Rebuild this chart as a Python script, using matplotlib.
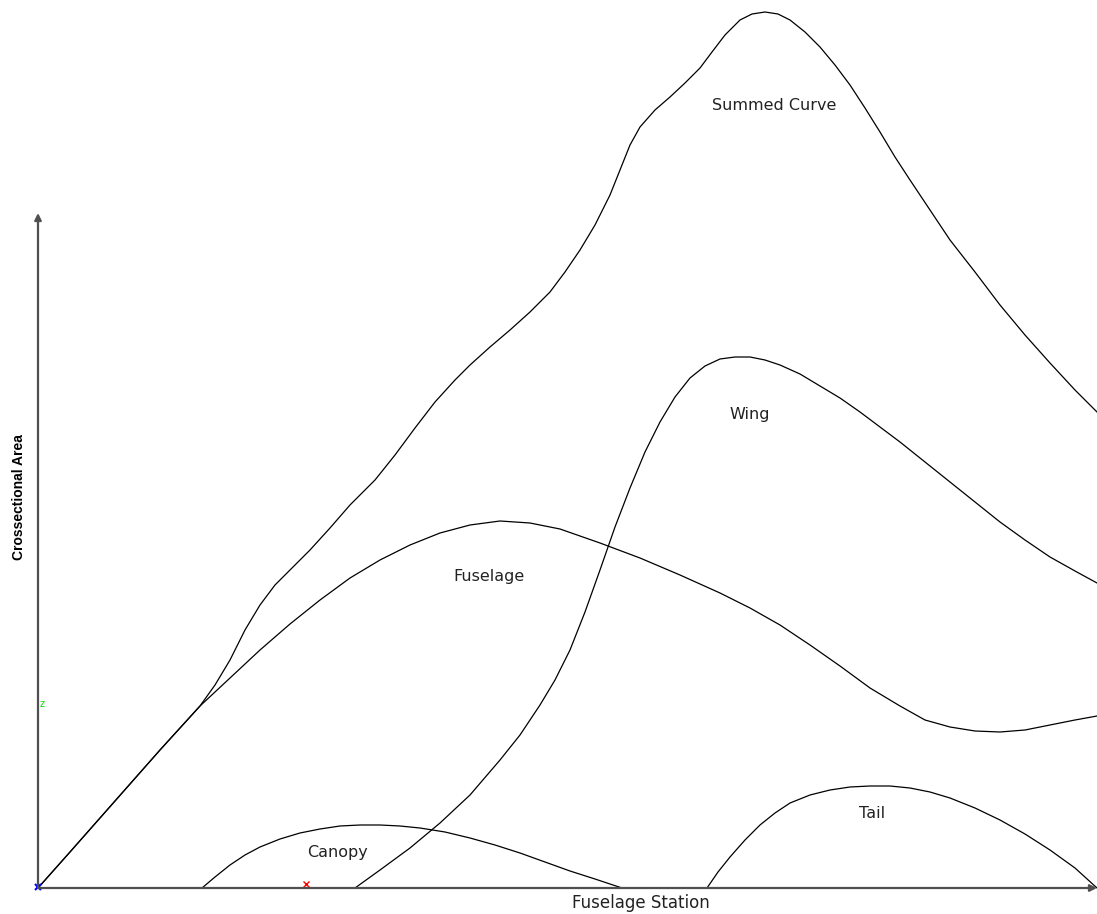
import matplotlib
matplotlib.use("Agg")
import matplotlib.pyplot as plt

# area-rule breakdown: station vs cross-sectional area (origin at 0,0)
fuselage_x = [0, 32, 62, 92, 122, 162, 192, 222, 252, 282, 312, 342, 372, 402, 432, 462, 492, 522,
              562, 602, 642, 682, 712, 742, 772, 802, 832, 862, 887, 912, 937, 962, 987, 1012, 1037, 1059]
fuselage_a = [0, 36, 70, 104, 138, 182, 210, 238, 264, 288, 310, 328, 343, 355, 363, 367, 365, 359,
              345, 330, 313, 295, 280, 263, 243, 222, 200, 182, 168, 161, 157, 156, 158, 163, 168, 172]

canopy_x = [164, 177, 192, 207, 222, 242, 262, 282, 302, 322, 342, 362, 382, 407, 432, 457, 482,
            507, 532, 557, 584]
canopy_a = [0, 11, 23, 33, 41, 49, 55, 59, 62, 63, 63, 62, 60, 56, 50, 43, 35, 26, 17, 9, 0]

wing_x = [317, 342, 372, 402, 432, 462, 482, 502, 517, 532, 547, 562, 577, 592, 607, 622, 637, 652,
          667, 682, 697, 712, 727, 742, 762, 782, 802, 822, 842, 862, 887, 912, 937, 962, 987, 1012,
          1037, 1059]
wing_a = [0, 18, 40, 65, 93, 128, 153, 183, 208, 238, 276, 318, 361, 400, 436, 466, 491, 510,
          522, 529, 531, 531, 528, 523, 514, 502, 490, 476, 461, 446, 426, 406, 386, 366, 348, 331,
          317, 305]

tail_x = [669, 680, 692, 707, 722, 737, 752, 772, 792, 812, 832, 852, 872, 892, 912, 937, 962, 987,
          1012, 1037, 1059]
tail_a = [0, 16, 31, 48, 63, 75, 85, 93, 98, 101, 102, 102, 100, 96, 90, 80, 68, 54, 38, 20, 0]

summed_x = [0, 32, 62, 92, 122, 162, 177, 192, 207, 222, 237, 252, 272, 292, 312, 337, 357, 377,
            397, 417, 432, 452, 472, 492, 512, 527, 542, 557, 572, 582, 592, 602, 617, 632, 647,
            662, 674, 687, 702, 714, 727, 740, 752, 767, 782, 797, 812, 827, 842, 857, 872, 892,
            912, 937, 962, 987, 1012, 1037, 1059]
summed_a = [0, 36, 70, 104, 138, 182, 203, 228, 258, 283, 303, 318, 338, 360, 383, 408, 433, 460,
            486, 508, 523, 541, 558, 576, 596, 616, 638, 663, 693, 718, 743, 761, 778, 791, 805,
            820, 836, 853, 868, 874, 876, 874, 868, 856, 841, 823, 803, 780, 756, 731, 708, 678,
            648, 616, 583, 553, 525, 498, 476]

labels = ["Summed Curve", "Wing", "Fuselage", "Canopy", "Tail"]
label_x = [736, 712, 451, 300, 834]
label_a = [783, 474, 312, 36, 75]

fig = plt.figure(figsize=(10.97, 9.14), dpi=100)
ax = fig.add_axes([0, 0, 1, 1])
ax.set_xlim(-38, 1059)
ax.set_ylim(-26, 888)
ax.axis("off")

for xs, ys in [(fuselage_x, fuselage_a), (canopy_x, canopy_a), (wing_x, wing_a),
               (tail_x, tail_a), (summed_x, summed_a)]:
    ax.plot(xs, ys, color="black", lw=0.9, solid_joinstyle="round")

for name, lx, ly in zip(labels, label_x, label_a):
    ax.text(lx, ly, name, ha="center", va="center", fontsize=11.5,
            family="DejaVu Sans", color="#222222")

# axes with arrow heads
ax.annotate("", xy=(0, 675), xytext=(0, 0),
            arrowprops=dict(arrowstyle="-|>", color="#505050", lw=1.6,
                            mutation_scale=10, shrinkA=0, shrinkB=0))
ax.annotate("", xy=(1059, 0), xytext=(0, 0),
            arrowprops=dict(arrowstyle="-|>", color="#505050", lw=1.6,
                            mutation_scale=10, shrinkA=0, shrinkB=0))

ax.text(-19, 391, "Crossectional Area", rotation=90, ha="center", va="center",
        fontsize=10, fontweight="bold", family=["Liberation Sans Narrow", "Liberation Sans"])
ax.text(603, -15, "Fuselage Station", ha="center", va="center", fontsize=12,
        family="DejaVu Sans", color="#222222")

# small markers near the axes
ax.text(4, 184, "z", color="#00e000", fontsize=7, ha="center", va="center")
ax.plot([268], [4], marker="x", color="red", ms=4, mew=1)
ax.plot([0], [1], marker="x", color="blue", ms=4, mew=1.5)

fig.savefig("out.png", dpi=100)
